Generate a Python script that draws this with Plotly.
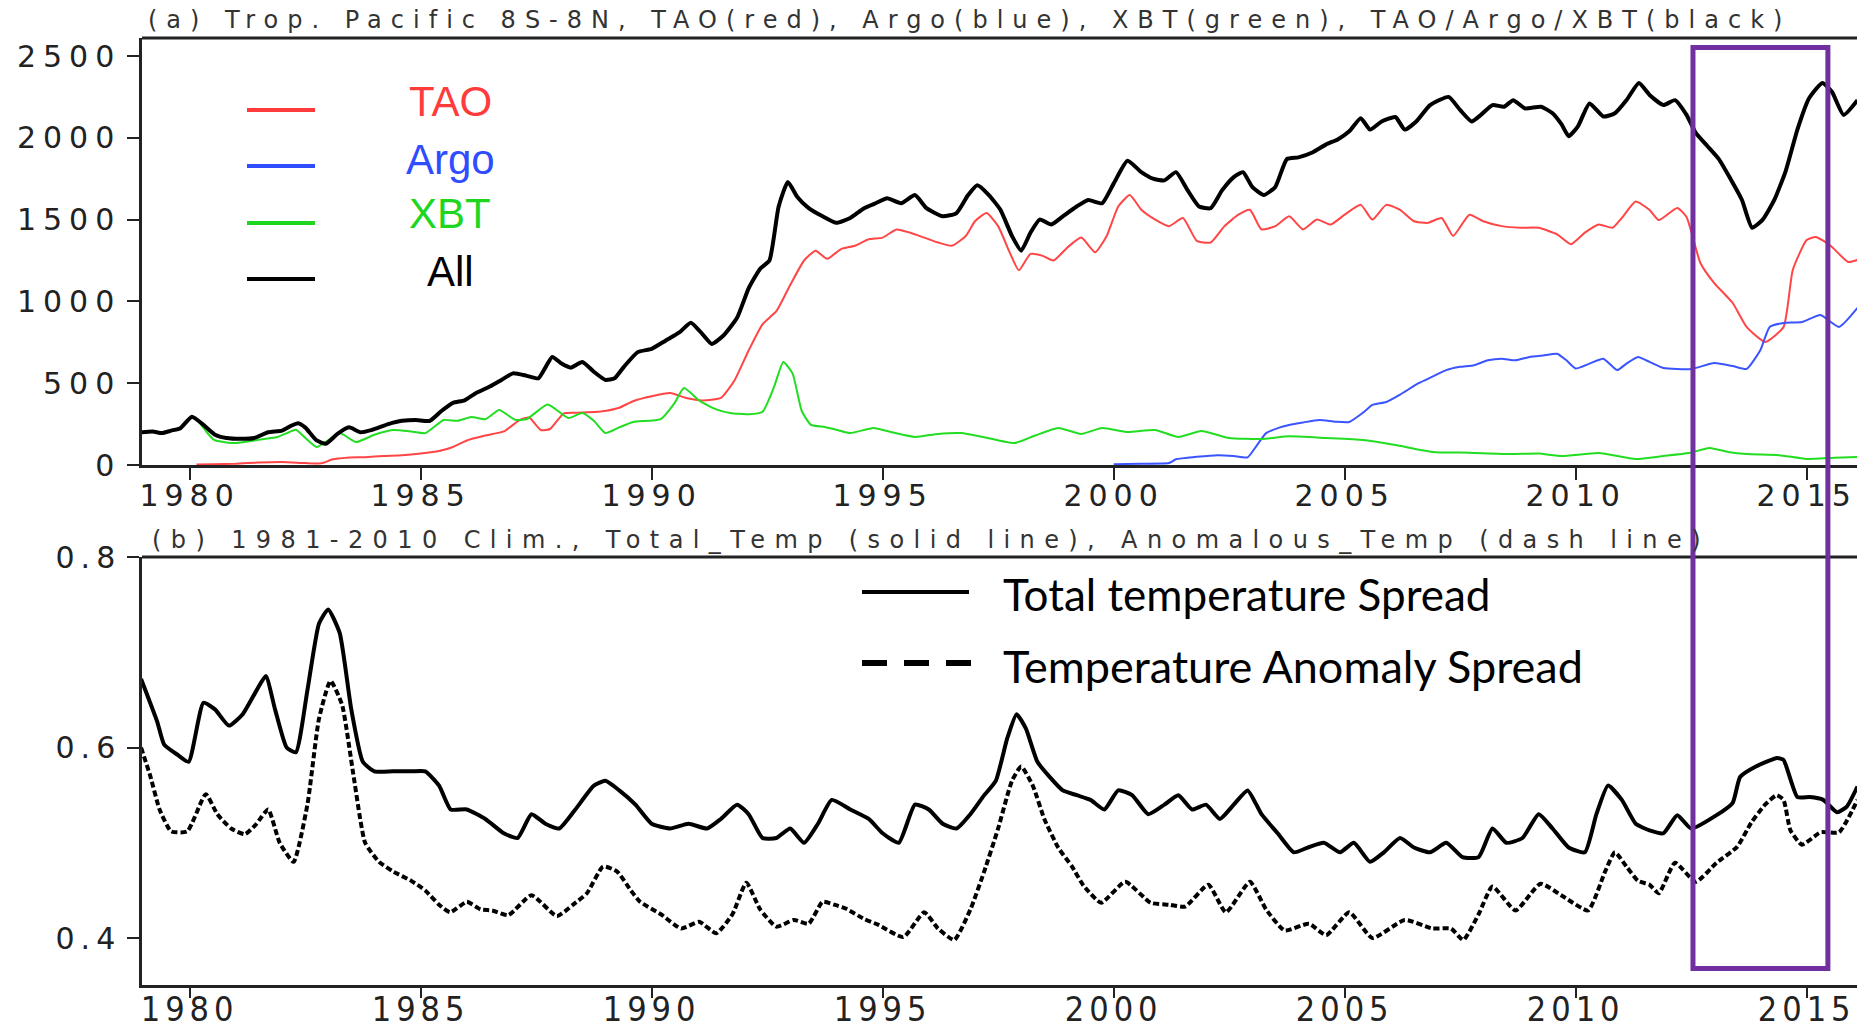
import plotly.graph_objects as go

# ---------------- data ----------------
all_years = [1978.95,1979.2,1979.4,1979.6,1979.8,1980.05,1980.3,1980.55,1980.8,1981.1,1981.4,1981.7,1982.0,1982.2,1982.35,1982.5,1982.75,1982.95,1983.2,1983.45,1983.7,1983.95,1984.3,1984.6,1984.9,1985.2,1985.45,1985.7,1985.95,1986.2,1986.5,1986.75,1987.0,1987.3,1987.55,1987.85,1988.05,1988.25,1988.5,1988.75,1989.0,1989.2,1989.4,1989.7,1990.0,1990.3,1990.6,1990.85,1991.1,1991.3,1991.55,1991.85,1992.1,1992.35,1992.55,1992.75,1992.95,1993.15,1993.4,1993.7,1994.0,1994.3,1994.6,1994.85,1995.1,1995.4,1995.7,1995.95,1996.3,1996.6,1996.85,1997.05,1997.3,1997.55,1997.8,1998.0,1998.2,1998.4,1998.65,1998.9,1999.2,1999.45,1999.75,2000.0,2000.3,2000.6,2000.85,2001.1,2001.35,2001.6,2001.85,2002.1,2002.35,2002.6,2002.8,2003.0,2003.25,2003.5,2003.75,2004.0,2004.3,2004.6,2004.85,2005.1,2005.35,2005.55,2005.8,2006.1,2006.3,2006.55,2006.85,2007.25,2007.5,2007.75,2007.95,2008.2,2008.45,2008.65,2008.9,2009.25,2009.5,2009.7,2009.85,2010.05,2010.3,2010.6,2010.85,2011.1,2011.37,2011.6,2011.9,2012.15,2012.4,2012.6,2012.85,2013.1,2013.35,2013.6,2013.82,2014.05,2014.3,2014.55,2014.8,2015.05,2015.34,2015.55,2015.8,2016.1]
all_counts = [200,205,195,210,225,295,245,185,165,160,165,200,210,240,255,230,150,130,190,230,200,215,250,270,275,270,330,380,395,440,480,520,560,545,530,660,620,595,630,570,520,530,600,690,710,760,810,870,800,740,790,900,1080,1200,1250,1580,1730,1640,1570,1520,1480,1510,1570,1600,1630,1600,1650,1570,1520,1540,1650,1710,1650,1560,1400,1310,1420,1500,1470,1520,1580,1620,1600,1720,1860,1790,1750,1740,1790,1680,1580,1570,1680,1760,1790,1700,1650,1700,1870,1880,1910,1960,1990,2040,2120,2050,2100,2127,2050,2100,2200,2250,2170,2100,2140,2200,2190,2230,2180,2190,2150,2080,2010,2070,2210,2130,2150,2230,2335,2262,2200,2230,2140,2030,1950,1870,1750,1620,1450,1500,1620,1800,2050,2240,2335,2280,2140,2230]

tao_years = [1980.15,1980.5,1981.0,1981.5,1982.0,1982.5,1982.85,1983.1,1983.4,1983.8,1984.2,1984.6,1985.0,1985.4,1985.7,1986.0,1986.4,1986.8,1987.15,1987.35,1987.6,1987.8,1988.1,1988.4,1988.9,1989.3,1989.6,1990.0,1990.4,1990.75,1991.1,1991.5,1991.8,1992.1,1992.4,1992.7,1993.0,1993.3,1993.55,1993.8,1994.1,1994.4,1994.7,1995.0,1995.3,1995.6,1995.9,1996.2,1996.5,1996.8,1997.0,1997.25,1997.5,1997.75,1997.95,1998.2,1998.45,1998.7,1999.0,1999.3,1999.6,1999.85,2000.1,2000.35,2000.6,2000.9,2001.2,2001.5,2001.8,2002.1,2002.4,2002.7,2002.95,2003.2,2003.5,2003.8,2004.1,2004.4,2004.7,2005.0,2005.35,2005.6,2005.9,2006.2,2006.5,2006.8,2007.1,2007.35,2007.7,2008.0,2008.4,2008.8,2009.2,2009.6,2009.9,2010.2,2010.5,2010.8,2011.0,2011.3,2011.6,2011.8,2012.2,2012.4,2012.7,2013.0,2013.4,2013.7,2014.1,2014.5,2014.7,2015.0,2015.2,2015.5,2015.9,2016.1]
tao_counts = [3,5,8,15,18,12,10,35,45,48,55,60,70,85,110,150,180,205,276,290,214,220,316,320,327,350,390,420,440,410,395,410,520,700,860,940,1100,1250,1310,1260,1320,1340,1380,1390,1440,1420,1390,1360,1340,1400,1490,1540,1460,1300,1190,1290,1280,1250,1330,1390,1300,1400,1580,1650,1560,1500,1460,1510,1370,1360,1460,1530,1560,1440,1460,1520,1440,1500,1470,1530,1590,1500,1590,1560,1490,1480,1510,1400,1530,1490,1460,1450,1450,1410,1350,1420,1470,1450,1510,1610,1559,1497,1571,1516,1235,1112,990,844,752,844,1192,1375,1394,1345,1241,1253]

argo_years = [2000.0,2000.6,2001.2,2001.35,2001.8,2002.25,2002.6,2002.9,2003.1,2003.3,2003.6,2003.8,2004.1,2004.45,2004.8,2005.1,2005.4,2005.6,2005.9,2006.2,2006.6,2006.9,2007.2,2007.5,2007.8,2008.1,2008.4,2008.7,2009.0,2009.3,2009.6,2009.8,2010.0,2010.3,2010.6,2010.9,2011.1,2011.35,2011.6,2011.9,2012.5,2013.0,2013.4,2013.7,2014.0,2014.2,2014.5,2014.9,2015.3,2015.7,2016.1]
argo_counts = [5,8,12,35,50,60,55,47,120,195,230,245,260,275,265,263,320,367,385,430,500,540,580,600,610,640,650,640,660,670,680,640,590,620,650,580,620,660,630,593,587,623,605,587,703,844,868,874,917,844,960]

xbt_years = [1980.15,1980.53,1981.0,1981.4,1981.9,1982.15,1982.3,1982.75,1983.25,1983.6,1984.0,1984.4,1984.8,1985.1,1985.5,1985.8,1986.1,1986.4,1986.7,1987.05,1987.3,1987.75,1988.2,1988.5,1988.75,1989.0,1989.3,1989.6,1990.2,1990.5,1990.7,1991.05,1991.4,1991.7,1992.1,1992.4,1992.65,1992.85,1993.05,1993.25,1993.45,1993.75,1994.0,1994.3,1994.8,1995.2,1995.7,1996.2,1996.7,1997.2,1997.85,1998.3,1998.8,1999.3,1999.75,2000.3,2000.9,2001.4,2001.9,2002.5,2003.2,2003.8,2004.6,2005.4,2006.1,2006.9,2007.7,2008.6,2009.2,2009.7,2010.5,2011.3,2011.9,2012.45,2012.9,2013.3,2013.7,2014.4,2015.0,2015.6,2016.1]
xbt_counts = [285,153,134,150,171,200,215,110,195,140,185,214,205,195,275,270,293,280,336,276,281,370,287,318,270,195,230,263,281,380,470,390,340,318,310,325,477,630,560,330,245,232,215,195,226,200,171,190,195,170,134,180,226,190,226,202,214,171,208,165,159,175,165,153,122,80,75,67,70,55,73,37,55,73,104,80,67,60,37,45,49]

total_years = [1978.95,1979.3,1979.45,1979.75,1979.98,1980.3,1980.55,1980.85,1981.15,1981.45,1981.65,1981.85,1982.1,1982.3,1982.55,1982.8,1983.0,1983.25,1983.5,1983.75,1984.0,1984.4,1984.8,1985.1,1985.4,1985.65,1986.0,1986.4,1986.8,1987.1,1987.4,1987.7,1988.0,1988.35,1988.75,1989.0,1989.3,1989.65,1990.0,1990.4,1990.8,1991.2,1991.5,1991.85,1992.1,1992.4,1992.7,1993.0,1993.3,1993.6,1993.9,1994.3,1994.7,1995.0,1995.35,1995.7,1996.0,1996.3,1996.6,1996.9,1997.2,1997.45,1997.7,1997.9,1998.1,1998.35,1998.6,1998.9,1999.2,1999.5,1999.8,2000.1,2000.4,2000.75,2001.1,2001.4,2001.7,2002.0,2002.3,2002.6,2002.9,2003.2,2003.55,2003.9,2004.2,2004.55,2004.9,2005.2,2005.55,2005.85,2006.2,2006.5,2006.85,2007.2,2007.55,2007.9,2008.2,2008.5,2008.85,2009.2,2009.5,2009.85,2010.2,2010.45,2010.7,2011.0,2011.3,2011.6,2011.9,2012.2,2012.5,2013.05,2013.4,2013.56,2013.9,2014.36,2014.5,2014.8,2015.07,2015.36,2015.66,2015.87,2016.1]
total_spread = [0.672,0.627,0.603,0.592,0.585,0.647,0.64,0.623,0.635,0.66,0.675,0.64,0.60,0.595,0.66,0.73,0.745,0.72,0.64,0.585,0.575,0.575,0.575,0.575,0.56,0.535,0.535,0.525,0.51,0.505,0.53,0.52,0.515,0.535,0.56,0.565,0.555,0.54,0.52,0.515,0.52,0.515,0.525,0.54,0.53,0.505,0.505,0.515,0.50,0.52,0.545,0.535,0.525,0.51,0.50,0.54,0.535,0.52,0.515,0.53,0.55,0.565,0.61,0.635,0.62,0.585,0.57,0.555,0.55,0.545,0.535,0.555,0.55,0.53,0.54,0.55,0.535,0.54,0.525,0.54,0.555,0.53,0.51,0.49,0.495,0.50,0.49,0.50,0.48,0.49,0.505,0.495,0.49,0.50,0.485,0.485,0.515,0.50,0.505,0.53,0.515,0.495,0.49,0.53,0.56,0.545,0.52,0.513,0.510,0.529,0.515,0.529,0.542,0.569,0.580,0.589,0.587,0.548,0.548,0.545,0.532,0.538,0.559]

anom_years = [1978.95,1979.15,1979.35,1979.6,1979.95,1980.35,1980.6,1980.9,1981.2,1981.45,1981.7,1981.95,1982.25,1982.55,1982.8,1983.05,1983.3,1983.55,1983.8,1984.1,1984.4,1984.8,1985.1,1985.4,1985.64,1986.0,1986.3,1986.55,1986.9,1987.4,1987.95,1988.3,1988.6,1988.95,1989.25,1989.55,1989.75,1990.2,1990.64,1991.03,1991.4,1991.75,1992.05,1992.35,1992.7,1993.08,1993.4,1993.7,1993.95,1994.2,1994.6,1994.9,1995.45,1995.9,1996.2,1996.55,1996.9,1997.2,1997.5,1997.8,1998.0,1998.25,1998.5,1998.8,1999.1,1999.35,1999.73,2000.25,2000.8,2001.2,2001.55,2002.05,2002.43,2002.95,2003.3,2003.7,2004.23,2004.6,2005.1,2005.6,2006.3,2006.9,2007.3,2007.57,2007.9,2008.2,2008.7,2009.24,2009.75,2010.27,2010.64,2010.85,2011.1,2011.35,2011.6,2011.8,2012.15,2012.6,2013.05,2013.5,2013.8,2014.1,2014.35,2014.5,2014.65,2014.9,2015.3,2015.7,2016.1]
anom_spread = [0.60,0.57,0.535,0.512,0.512,0.551,0.53,0.515,0.509,0.52,0.535,0.50,0.48,0.54,0.63,0.67,0.645,0.57,0.50,0.48,0.47,0.46,0.45,0.435,0.427,0.438,0.43,0.429,0.424,0.445,0.423,0.435,0.447,0.475,0.47,0.45,0.438,0.425,0.410,0.417,0.405,0.425,0.458,0.43,0.412,0.419,0.415,0.438,0.435,0.431,0.42,0.414,0.401,0.427,0.41,0.398,0.43,0.47,0.515,0.565,0.58,0.56,0.525,0.495,0.475,0.455,0.437,0.459,0.437,0.435,0.433,0.456,0.427,0.459,0.43,0.408,0.415,0.403,0.427,0.400,0.419,0.410,0.41,0.398,0.425,0.454,0.429,0.457,0.443,0.429,0.47,0.49,0.475,0.46,0.456,0.447,0.479,0.459,0.479,0.496,0.521,0.540,0.550,0.545,0.513,0.498,0.511,0.511,0.545]

year_ticks = [1980, 1985, 1990, 1995, 2000, 2005, 2010, 2015]
count_ticks = [0, 500, 1000, 1500, 2000, 2500]
spread_ticks = [0.4, 0.6, 0.8]
spread_tick_labels = ["0.4", "0.6", "0.8"]
highlight_years = [2012.54, 2015.46]

title_a = "(a) Trop. Pacific 8S-8N, TAO(red), Argo(blue), XBT(green), TAO/Argo/XBT(black)"
title_b = "(b) 1981-2010 Clim., Total_Temp (solid line), Anomalous_Temp (dash line)"
legend_a = [("TAO", "#ff3b3b"), ("Argo", "#2f4cff"), ("XBT", "#1ed61e"), ("All", "#000000")]
legend_b = ["Total temperature Spread", "Temperature Anomaly Spread"]

# ---------------- layout helpers ----------------
W, H = 1857, 1024
def px(x):
    return x / W
def py(y):
    return 1 - y / H

RED, BLUE, GREEN = "#ff4545", "#3a55ff", "#22dd22"
GRADS = "DejaVu Sans, Verdana, sans-serif"

def spaced(t, s, extra=""):
    return '<span style="letter-spacing:%spx;%s">%s</span>' % (s, extra, t)

SM = dict(shape="spline", smoothing=0.5)
fig = go.Figure()
fig.add_trace(go.Scatter(x=tao_years, y=tao_counts, mode="lines", line=dict(color=RED, width=2, **SM), xaxis="x", yaxis="y"))
fig.add_trace(go.Scatter(x=argo_years, y=argo_counts, mode="lines", line=dict(color=BLUE, width=2, **SM), xaxis="x", yaxis="y"))
fig.add_trace(go.Scatter(x=xbt_years, y=xbt_counts, mode="lines", line=dict(color=GREEN, width=2, **SM), xaxis="x", yaxis="y"))
fig.add_trace(go.Scatter(x=all_years, y=all_counts, mode="lines", line=dict(color="black", width=4, **SM), xaxis="x", yaxis="y"))
fig.add_trace(go.Scatter(x=total_years, y=total_spread, mode="lines", line=dict(color="black", width=4, **SM), xaxis="x2", yaxis="y2"))
fig.add_trace(go.Scatter(x=anom_years, y=anom_spread, mode="lines", line=dict(color="black", width=4, dash="6px,3px", **SM), xaxis="x2", yaxis="y2"))

xr = [1978.97, 2016.09]
common_axis = dict(showgrid=False, zeroline=False, showline=True, linecolor="#222", linewidth=2.5,
                   ticks="outside", ticklen=12, tickwidth=2, tickcolor="#222", automargin=False,
                   ticklabeloverflow="allow")

fig.update_layout(
    width=W, height=H, margin=dict(l=0, r=0, t=0, b=0),
    paper_bgcolor="white", plot_bgcolor="white", showlegend=False,
    xaxis=dict(common_axis, domain=[px(142), 1], range=xr, anchor="y", ticklabelstandoff=-10,
               tickvals=year_ticks, ticktext=[spaced(v, 6) for v in year_ticks],
               tickfont=dict(family=GRADS, size=30, color="#222")),
    yaxis=dict(common_axis, domain=[py(465), py(38)], range=[0, 2610], anchor="x",
               tickvals=count_ticks, ticktext=[spaced(v, 7) for v in count_ticks],
               tickfont=dict(family=GRADS, size=30, color="#222")),
    xaxis2=dict(common_axis, domain=[px(142), 1], range=xr, anchor="y2", ticklen=10, ticklabelstandoff=-18,
                tickvals=year_ticks, ticktext=[spaced(v, 5, "font-stretch:condensed") for v in year_ticks],
                tickfont=dict(family="DejaVu Sans Condensed, DejaVu Sans, sans-serif", size=34, color="#222")),
    yaxis2=dict(common_axis, domain=[py(985), py(557)], range=[0.3507, 0.8], anchor="x2",
                tickvals=spread_ticks, ticktext=[spaced(v, 6) for v in spread_tick_labels],
                tickfont=dict(family=GRADS, size=30, color="#222")),
)

shapes = []
# top frame lines
for yy in (38, 557):
    shapes.append(dict(type="line", xref="paper", yref="paper", x0=px(142), x1=1, y0=py(yy), y1=py(yy),
                       line=dict(color="#222", width=3)))
# top-panel legend lines
for (name, col), yy in zip(legend_a, [110, 166, 223, 279]):
    shapes.append(dict(type="line", xref="paper", yref="paper", x0=px(247), x1=px(315), y0=py(yy), y1=py(yy),
                       line=dict(color=col, width=4)))
# bottom-panel legend lines
shapes.append(dict(type="line", xref="paper", yref="paper", x0=px(862), x1=px(969), y0=py(592), y1=py(592),
                   line=dict(color="black", width=4)))
shapes.append(dict(type="line", xref="paper", yref="paper", x0=px(862), x1=px(971), y0=py(663), y1=py(663),
                   line=dict(color="black", width=6, dash="25px,17px")))
# purple highlight box
shapes.append(dict(type="rect", xref="x", yref="paper", x0=highlight_years[0], x1=highlight_years[1],
                   y0=py(968.5), y1=py(47.5), line=dict(color="#7030a0", width=5), fillcolor="rgba(0,0,0,0)"))

annotations = [
    dict(text=spaced(title_a, 9), xref="paper", yref="paper", x=px(146), y=py(20), xanchor="left", yanchor="middle",
         showarrow=False, font=dict(family=GRADS, size=24, color="#333")),
    dict(text=spaced(title_b, 9.4), xref="paper", yref="paper", x=px(150), y=py(540), xanchor="left", yanchor="middle",
         showarrow=False, font=dict(family=GRADS, size=24, color="#333")),
]
for (name, col), yy in zip(legend_a, [101, 159, 213, 271]):
    annotations.append(dict(text=name, xref="paper", yref="paper", x=px(450), y=py(yy), xanchor="center",
                            yanchor="middle", showarrow=False,
                            font=dict(family="Liberation Sans, Arial, sans-serif", size=42, color=col)))
for txt, yy, sz in zip(legend_b, [594, 666], [44, 45]):
    annotations.append(dict(text=txt, xref="paper", yref="paper", x=px(1001), y=py(yy), xanchor="left",
                            yanchor="middle", showarrow=False,
                            font=dict(family="Lato, Open Sans, sans-serif", size=sz, color="black")))

fig.update_layout(shapes=shapes, annotations=annotations)

fig.write_html("out.html", config={"displayModeBar": False},
               post_script="document.body.style.margin='0';document.body.style.overflow='hidden';")
